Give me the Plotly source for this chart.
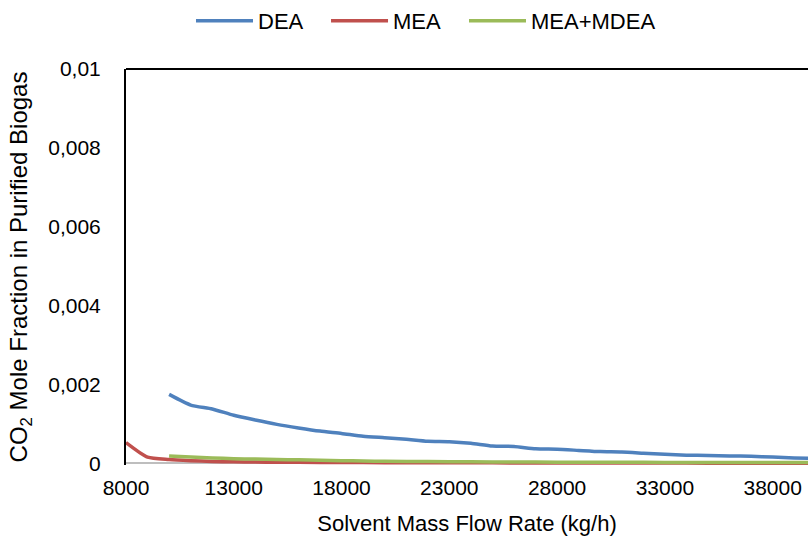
import plotly.graph_objects as go

# ---- data ----
dea_x = [10000, 11000, 12000, 13000, 14000, 15000, 16000, 17000, 18000, 19000,
         20000, 21000, 22000, 23000, 24000, 25000, 26000, 27000, 28000, 29000,
         30000, 31000, 32000, 33000, 34000, 35000, 36000, 37000, 38000, 39000, 40000]
dea_y = [0.00175, 0.00148, 0.00138, 0.00122, 0.00110, 0.00099, 0.00090, 0.00082, 0.00076, 0.00069,
         0.00065, 0.00061, 0.00056, 0.00055, 0.00051, 0.00044, 0.00043, 0.00037, 0.00036, 0.00033,
         0.00030, 0.00029, 0.00026, 0.00023, 0.00021, 0.00020, 0.00019, 0.00018, 0.00016, 0.00014, 0.00013]

mea_x = [8000, 9000, 10000, 11000, 12000, 13000, 14000, 15000, 16000, 18000, 20000,
         22000, 24000, 26000, 28000, 30000, 32000, 34000, 36000, 38000, 40000]
mea_y = [0.00053, 0.00016, 0.00010, 0.00007, 0.00005, 0.00004, 0.000035, 0.00003, 0.000027, 0.000022, 0.00002,
         0.000017, 0.000015, 0.000013, 0.000011, 0.00001, 0.000009, 0.000008, 0.000007, 0.000006, 0.000005]

mix_x = [10000, 11000, 12000, 13000, 14000, 15000, 16000, 17000, 18000, 19000, 20000,
         22000, 24000, 26000, 28000, 30000, 32000, 34000, 36000, 38000, 40000]
mix_y = [0.00019, 0.00016, 0.00014, 0.00012, 0.00011, 0.00010, 0.00009, 0.00008, 0.00007, 0.00006, 0.000055,
         0.000047, 0.00004, 0.000035, 0.000032, 0.00003, 0.000027, 0.000025, 0.000023, 0.000021, 0.00002]

x_tickvals = [8000, 13000, 18000, 23000, 28000, 33000, 38000]
x_ticktext = ["8000", "13000", "18000", "23000", "28000", "33000", "38000"]
y_tickvals = [0, 0.002, 0.004, 0.006, 0.008, 0.01]
y_ticktext = ["0", "0,002", "0,004", "0,006", "0,008", "0,01"]

FONT = "Arial, Liberation Sans, sans-serif"

fig = go.Figure()
fig.add_trace(go.Scatter(x=dea_x, y=dea_y, name="DEA", mode="lines", legend="legend",
                         line=dict(color="#4F81BD", width=3.5, shape="spline", smoothing=0.6)))
fig.add_trace(go.Scatter(x=mea_x, y=mea_y, name="MEA", mode="lines", legend="legend2",
                         line=dict(color="#C0504D", width=3.5, shape="spline", smoothing=0.6)))
fig.add_trace(go.Scatter(x=mix_x, y=mix_y, name="MEA+MDEA", mode="lines", legend="legend3",
                         line=dict(color="#9BBB59", width=3.5, shape="spline", smoothing=0.6)))

def leg(xpos):
    return dict(orientation="h", xref="paper", yref="container",
                x=xpos, y=1.0, xanchor="left", yanchor="top",
                font=dict(size=22), itemwidth=57, bgcolor="rgba(0,0,0,0)")

fig.update_layout(
    width=808, height=547,
    margin=dict(l=126, r=0, t=69, b=82),
    paper_bgcolor="white", plot_bgcolor="white",
    font=dict(family=FONT, size=21, color="black"),
    showlegend=True,
    legend=leg(0.0953),
    legend2=leg(0.2933),
    legend3=leg(0.4956),
    xaxis=dict(range=[8000, 39640], tickvals=x_tickvals, ticktext=x_ticktext,
               showgrid=False, zeroline=False, showline=False, ticks="",
               ticklabelstandoff=8,
               title=dict(text="Solvent Mass Flow Rate (kg/h)", font=dict(size=22), standoff=17)),
    yaxis=dict(range=[-0.00004, 0.01], tickvals=y_tickvals, ticktext=y_ticktext,
               showgrid=False, zeroline=True, zerolinecolor="#BEBEBE", zerolinewidth=2,
               showline=True, linecolor="black", linewidth=2, ticks="",
               ticklabelstandoff=19,
               title=dict(text="CO<sub>2</sub> Mole Fraction in Purified Biogas",
                          font=dict(size=24), standoff=14)),
    shapes=[dict(type="line", xref="paper", yref="paper", x0=0, x1=1, y0=1, y1=1,
                 line=dict(color="black", width=2))],
)

fig.write_html("out.html")
